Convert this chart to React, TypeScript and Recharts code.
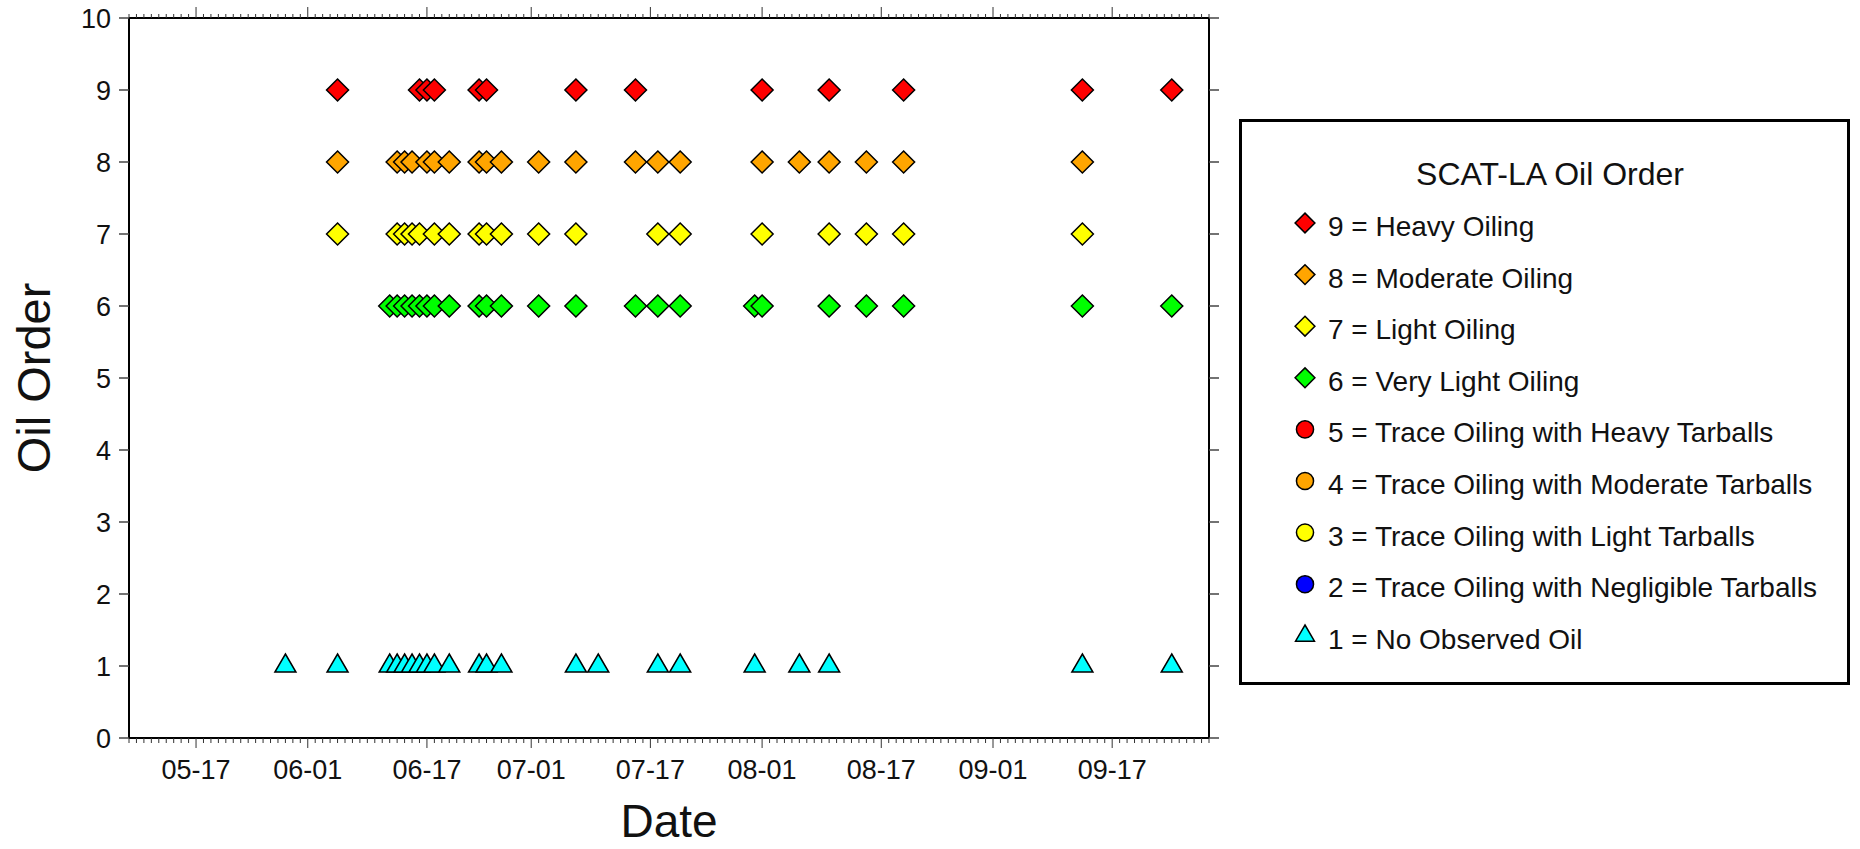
import React from 'react';
import { ScatterChart, Scatter, XAxis, YAxis, Legend } from 'recharts';

const YEAR = 2010;
const FONT = 'Liberation Sans, Arial, Helvetica, sans-serif';

// Observation dates (MM-DD) per oil order level
const heavyDates = ['06-05', '06-16', '06-17', '06-18', '06-24', '06-25', '07-07', '07-15', '08-01', '08-10', '08-20', '09-13', '09-25'];
const moderateDates = ['06-05', '06-13', '06-14', '06-15', '06-17', '06-18', '06-20', '06-24', '06-25', '06-27', '07-02', '07-07', '07-15', '07-18', '07-21', '08-01', '08-06', '08-10', '08-15', '08-20', '09-13'];
const lightDates = ['06-05', '06-13', '06-14', '06-15', '06-16', '06-18', '06-20', '06-24', '06-25', '06-27', '07-02', '07-07', '07-18', '07-21', '08-01', '08-10', '08-15', '08-20', '09-13'];
const veryLightDates = ['06-12', '06-13', '06-14', '06-15', '06-16', '06-17', '06-18', '06-20', '06-24', '06-25', '06-27', '07-02', '07-07', '07-15', '07-18', '07-21', '07-31', '08-01', '08-10', '08-15', '08-20', '09-13', '09-25'];
const traceHeavyDates: string[] = [];
const traceModerateDates: string[] = [];
const traceLightDates: string[] = [];
const traceNegligibleDates: string[] = [];
const noOilDates = ['05-29', '06-05', '06-12', '06-13', '06-14', '06-15', '06-16', '06-17', '06-18', '06-20', '06-24', '06-25', '06-27', '07-07', '07-10', '07-18', '07-21', '07-31', '08-06', '08-10', '09-13', '09-25'];

const levels = [9, 8, 7, 6, 5, 4, 3, 2, 1];
const levelLabels = [
  '9 = Heavy Oiling',
  '8 = Moderate Oiling',
  '7 = Light Oiling',
  '6 = Very Light Oiling',
  '5 = Trace Oiling with Heavy Tarballs',
  '4 = Trace Oiling with Moderate Tarballs',
  '3 = Trace Oiling with Light Tarballs',
  '2 = Trace Oiling with Negligible Tarballs',
  '1 = No Observed Oil',
];
const levelColors = ['#ff0000', '#ffa500', '#ffff00', '#00ff00', '#ff0000', '#ffa500', '#ffff00', '#0000ff', '#00ffff'];
const levelShapes = ['diamond', 'diamond', 'diamond', 'diamond', 'circle', 'circle', 'circle', 'circle', 'triangle'];
const levelDates = [heavyDates, moderateDates, lightDates, veryLightDates, traceHeavyDates, traceModerateDates, traceLightDates, traceNegligibleDates, noOilDates];

const domainStart = '05-08';
const domainEnd = '09-30';
const majorTickDays = [1, 17];
const yTicks = [0, 1, 2, 3, 4, 5, 6, 7, 8, 9, 10];
const legendTitle = 'SCAT-LA Oil Order';

const toDay = (md: string) => {
  const [m, d] = md.split('-').map(Number);
  return Date.UTC(YEAR, m - 1, d) / 86400000;
};
const fmt = (v: number) => {
  const dt = new Date(v * 86400000);
  const m = String(dt.getUTCMonth() + 1).padStart(2, '0');
  const d = String(dt.getUTCDate()).padStart(2, '0');
  return `${m}-${d}`;
};
const isMajor = (v: number) => majorTickDays.includes(new Date(v * 86400000).getUTCDate());

const x0 = toDay(domainStart);
const x1 = toDay(domainEnd);
const dayTicks: number[] = [];
for (let v = x0; v <= x1; v++) dayTicks.push(v);

const seriesData = levelDates.map((dates, i) => dates.map((s) => ({ x: toDay(s), y: levels[i] })));

const Marker = ({ shape, cx, cy, fill, s = 1 }: any) => {
  if (shape === 'diamond') {
    const r = 11 * s;
    return <path d={`M${cx},${cy - r}L${cx + r},${cy}L${cx},${cy + r}L${cx - r},${cy}Z`} fill={fill} stroke="#000" strokeWidth={1.5} />;
  }
  if (shape === 'triangle') {
    const hw = 10.5 * s;
    return <path d={`M${cx},${cy - 12 * s}L${cx + hw},${cy + 6 * s}L${cx - hw},${cy + 6 * s}Z`} fill={fill} stroke="#000" strokeWidth={1.5} />;
  }
  return <circle cx={cx} cy={cy} r={9.5 * s} fill={fill} stroke="#000" strokeWidth={1.5} />;
};

const BottomTick = ({ x, y, payload }: any) => {
  const major = isMajor(payload.value);
  return (
    <g>
      <line x1={x} x2={x} y1={y} y2={y + (major ? 10 : 5)} stroke="#333" strokeWidth={1} />
      {major && (
        <text x={x} y={y + 41} textAnchor="middle" fontSize={27} fontFamily={FONT} fill="#111">
          {fmt(payload.value)}
        </text>
      )}
    </g>
  );
};

const TopTick = ({ x, y, payload }: any) => {
  const major = isMajor(payload.value);
  return <line x1={x} x2={x} y1={y} y2={y - (major ? 11 : 4)} stroke="#333" strokeWidth={1} />;
};

const LeftTick = ({ x, y, payload }: any) => (
  <g>
    <line x1={x - 10} x2={x} y1={y} y2={y} stroke="#444" strokeWidth={1.5} />
    <text x={x - 18} y={y + 9.5} textAnchor="end" fontSize={27} fontFamily={FONT} fill="#111">
      {payload.value}
    </text>
  </g>
);

const RightTick = ({ x, y }: any) => <line x1={x} x2={x + 10} y1={y} y2={y} stroke="#444" strokeWidth={1.5} />;

const LegendBox = () => (
  <svg width={611} height={566} style={{ display: 'block' }}>
    <rect x={1.5} y={1.5} width={608} height={563} fill="#fff" stroke="#000" strokeWidth={3} />
    <text x={311} y={66} textAnchor="middle" fontSize={32} fontFamily={FONT} fill="#111">
      {legendTitle}
    </text>
    {levelLabels.map((label, i) => {
      const cy = 107 + 51.6 * i;
      return (
        <g key={label}>
          <Marker shape={levelShapes[i]} cx={66} cy={cy - 3} fill={levelColors[i]} s={0.9} />
          <text x={89} y={cy + 10} fontSize={28} fontFamily={FONT} fill="#111">
            {label}
          </text>
        </g>
      );
    })}
  </svg>
);

export default function App() {
  return (
    <div style={{ position: 'absolute', left: 0, top: 0, background: '#fff' }}>
      <ScatterChart width={1860} height={849} margin={{ top: 0, right: 0, bottom: 0, left: 0 }}>
        <XAxis
          xAxisId="bottom"
          dataKey="x"
          type="number"
          domain={[x0, x1]}
          allowDataOverflow
          ticks={dayTicks}
          interval={0}
          height={111}
          tickSize={0}
          tickMargin={0}
          tickLine={false}
          axisLine={{ stroke: '#000', strokeWidth: 2 }}
          tick={<BottomTick />}
          label={{
            value: 'Date',
            content: ({ viewBox }: any) => (
              <text x={viewBox.x + viewBox.width / 2} y={viewBox.y + 99} textAnchor="middle" fontSize={46} fontFamily={FONT} fill="#111">
                Date
              </text>
            ),
          }}
        />
        <XAxis
          xAxisId="top"
          orientation="top"
          dataKey="x"
          type="number"
          domain={[x0, x1]}
          allowDataOverflow
          ticks={dayTicks}
          interval={0}
          height={18}
          tickSize={0}
          tickMargin={0}
          tickLine={false}
          axisLine={{ stroke: '#000', strokeWidth: 2 }}
          tick={<TopTick />}
        />
        <YAxis
          yAxisId="left"
          dataKey="y"
          type="number"
          domain={[0, 10]}
          allowDataOverflow
          ticks={yTicks}
          interval={0}
          width={129}
          tickSize={0}
          tickMargin={0}
          tickLine={false}
          axisLine={{ stroke: '#000', strokeWidth: 2 }}
          tick={<LeftTick />}
          label={{
            value: 'Oil Order',
            content: ({ viewBox }: any) => {
              const cy = viewBox.y + viewBox.height / 2;
              return (
                <text x={50} y={cy} transform={`rotate(-90 50 ${cy})`} textAnchor="middle" fontSize={47} fontFamily={FONT} fill="#111">
                  Oil Order
                </text>
              );
            },
          }}
        />
        <YAxis
          yAxisId="right"
          orientation="right"
          dataKey="y"
          type="number"
          domain={[0, 10]}
          allowDataOverflow
          ticks={yTicks}
          interval={0}
          width={651}
          tickSize={0}
          tickMargin={0}
          tickLine={false}
          axisLine={{ stroke: '#000', strokeWidth: 2 }}
          tick={<RightTick />}
        />
        {levelLabels.map((label, i) => (
          <Scatter
            key={label}
            name={label}
            data={seriesData[i]}
            xAxisId="bottom"
            yAxisId="left"
            fill={levelColors[i]}
            isAnimationActive={false}
            shape={(p: any) => <Marker shape={levelShapes[i]} cx={p.cx} cy={p.cy} fill={levelColors[i]} />}
          />
        ))}
        <Legend
          layout="vertical"
          align="center"
          verticalAlign="middle"
          wrapperStyle={{ left: 1239, top: 119, width: 611, height: 566 }}
          content={() => <LegendBox />}
        />
      </ScatterChart>
    </div>
  );
}
